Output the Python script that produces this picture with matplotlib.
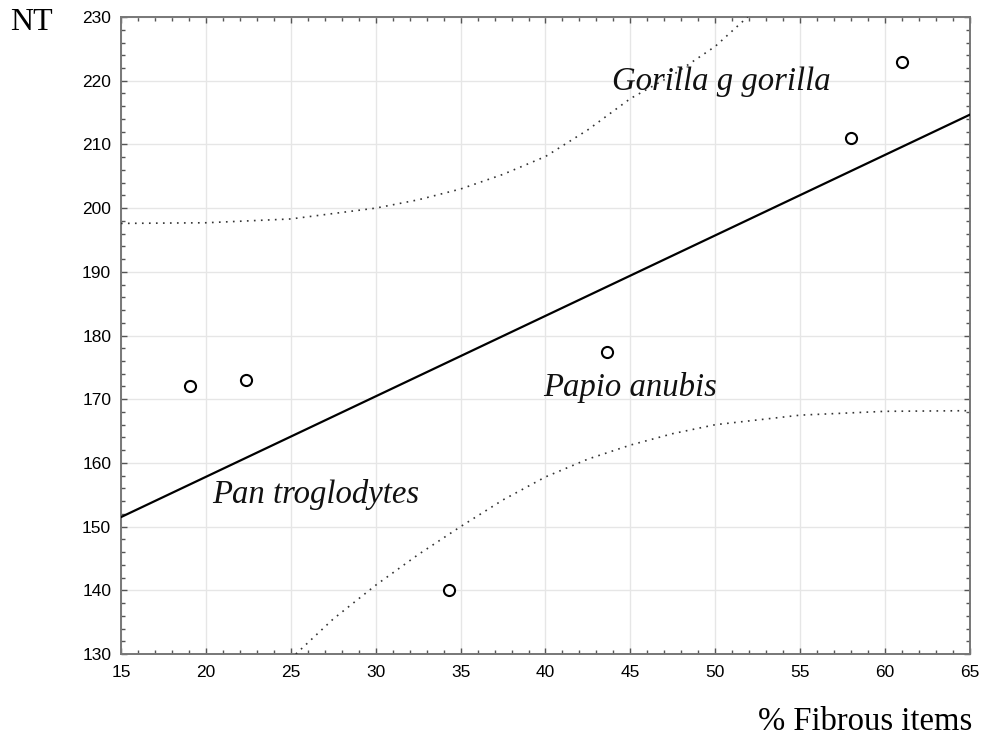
import numpy as np
import matplotlib
matplotlib.use("Agg")
import matplotlib.pyplot as plt
from matplotlib.ticker import MultipleLocator

# % fibrous items in the diet vs. NT
fibrous_pct = [19.06, 22.36, 34.3, 43.6, 58.0, 61.0]
nt_values = [172.1, 173.0, 140.0, 177.4, 211.0, 222.9]

# Dotted confidence band (upper and lower limits)
upper_x = [15, 20, 25, 30, 32.5, 35, 37.5, 40, 42.5, 45, 47.5, 50, 51.9]
upper_y = [197.6, 197.7, 198.3, 200.0, 201.3, 203.0, 205.3, 208.1, 212.3, 217.2, 220.9, 225.4, 230.0]
lower_x = [25.3, 27.5, 30, 32.5, 35, 37.5, 40, 42.5, 45, 47.5, 50, 55, 60, 65]
lower_y = [130.0, 135.5, 140.8, 145.6, 150.0, 154.2, 157.8, 160.6, 162.8, 164.6, 166.0, 167.5, 168.1, 168.2]

# Species labels: text, x, y
species = ["Gorilla g gorilla", "Papio anubis", "Pan troglodytes"]
species_x = [43.9, 39.85, 20.4]
species_y = [219.8, 171.9, 155.0]

x_ticks = list(range(15, 70, 5))
y_ticks = list(range(130, 240, 10))

fig = plt.figure(figsize=(9.81, 7.37), dpi=100)
ax = fig.add_axes([0.1233, 0.1126, 0.8655, 0.8643])

ax.set_xlim(15, 65)
ax.set_ylim(130, 230)
ax.set_xticks(x_ticks)
ax.set_yticks(y_ticks)
ax.xaxis.set_minor_locator(MultipleLocator(1))
ax.yaxis.set_minor_locator(MultipleLocator(2))
ax.grid(True, which="major", color="#e6e6e6", linewidth=1.0, zorder=0)
ax.set_axisbelow(True)

ax.tick_params(which="both", direction="in", top=True, right=True,
               width=1.0, color="#555555")
ax.tick_params(which="minor", length=3)
ax.tick_params(which="major", length=4.5, labelsize=12.5)
ax.tick_params(axis="x", which="major", pad=8)
ax.tick_params(axis="y", which="major", pad=7)
for lab in ax.get_xticklabels() + ax.get_yticklabels():
    lab.set_fontfamily("Liberation Sans")
for sp in ax.spines.values():
    sp.set_color("#777777")
    sp.set_linewidth(1.4)

# Least-squares regression line
slope, intercept = np.polyfit(fibrous_pct, nt_values, 1)
xl = np.array([15, 65])
ax.plot(xl, intercept + slope * xl, color="black", linewidth=1.6, zorder=3)

# Confidence band
ax.plot(upper_x, upper_y, color="#333333", linewidth=1.2, linestyle=(0, (1, 3.2)), zorder=3)
ax.plot(lower_x, lower_y, color="#333333", linewidth=1.2, linestyle=(0, (1, 3.2)), zorder=3)

# Observations
ax.plot(fibrous_pct, nt_values, linestyle="none", marker="o", markersize=8,
        markerfacecolor="white", markeredgecolor="black", markeredgewidth=1.5, zorder=4)

for name, sx, sy in zip(species, species_x, species_y):
    ax.text(sx, sy, name, fontsize=23.6, fontstyle="italic", family="Liberation Serif",
            ha="left", va="center", color="#111111", zorder=5)

fig.text(10 / 981, 1 - 22 / 737, "NT", fontsize=23, family="Liberation Serif",
         ha="left", va="center")
fig.text(972 / 981, 1 - 722 / 737, "% Fibrous items", fontsize=23.5, family="Liberation Serif",
         ha="right", va="center")

fig.savefig("out.png", dpi=100)
